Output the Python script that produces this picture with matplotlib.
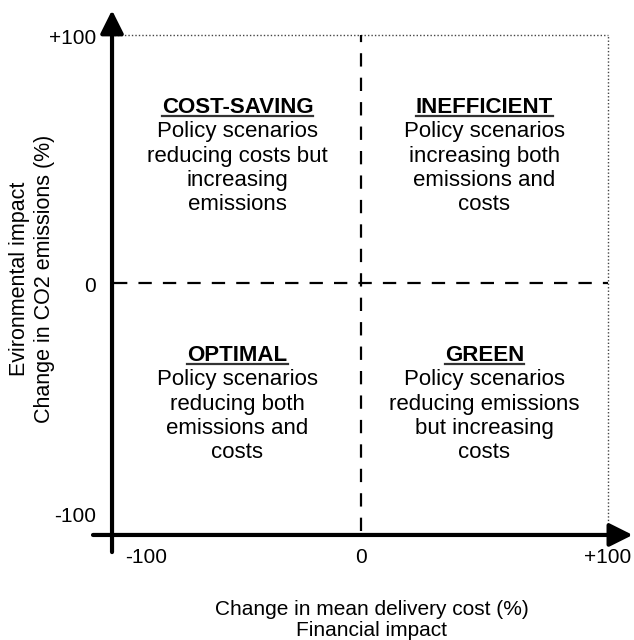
import matplotlib
matplotlib.use("Agg")
import matplotlib.pyplot as plt
from matplotlib.lines import Line2D

plt.rcParams['font.family'] = ['Liberation Sans', 'DejaVu Sans']

# ---- data ----
axis_min = -100
axis_max = 100
x_ticks = [-100, 0, 100]
x_tick_labels = ["-100", "0", "+100"]
y_ticks = [-100, 0, 100]
y_tick_labels = ["-100", "0", "+100"]
x_title = "Change in mean delivery cost (%)\nFinancial impact"
y_title = "Evironmental impact\nChange in CO2 emissions (%)"
quadrant_titles = ["COST-SAVING", "INEFFICIENT", "OPTIMAL", "GREEN"]
quadrant_texts = [
    "Policy scenarios\nreducing costs but\nincreasing\nemissions",
    "Policy scenarios\nincreasing both\nemissions and\ncosts",
    "Policy scenarios\nreducing both\nemissions and\ncosts",
    "Policy scenarios\nreducing emissions\nbut increasing\ncosts",
]
quadrant_x = [-50, 50, -50, 50]
quadrant_y = [52, 52, -48, -48]

# ---- figure ----
W, H, DPI = 634, 640, 100
fig = plt.figure(figsize=(W / DPI, H / DPI), dpi=DPI)
ax = fig.add_axes([0, 0, 1, 1])
ax.set_xlim(-361 / 2.47, (W - 361) / 2.47)
ax.set_ylim(-(H - 283) / 2.48, 283 / 2.48)
ax.axis('off')

PX = 0.72  # points per pixel

# dotted frame (top and right)
ax.plot([axis_min, axis_max], [axis_max, axis_max], color='#444444', lw=1.0,
        linestyle=(0, (1, 1.5)), zorder=1)
ax.plot([axis_max, axis_max], [axis_min, axis_max], color='#444444', lw=1.0,
        linestyle=(0, (1, 1.5)), zorder=1)

# dashed zero lines
ax.plot([axis_min, axis_max], [0, 0], color='black', lw=1.6,
        linestyle=(0, (6, 5)), zorder=2)
ax.plot([0, 0], [axis_min, axis_max], color='black', lw=1.6,
        linestyle=(0, (6, 5)), zorder=2)

# main axes with arrows
over = 8.5
arrow_kw = dict(arrowstyle='-|>,head_length=14,head_width=7', lw=3, color='black',
                shrinkA=0, shrinkB=0, mutation_scale=1)
ax.annotate('', xy=(axis_min - 0.8, axis_max + 10), xytext=(axis_min - 0.8, axis_min - over),
            arrowprops=arrow_kw, zorder=5)
ax.annotate('', xy=(axis_max + 10, axis_min - 1.6), xytext=(axis_min - over, axis_min - 1.6),
            arrowprops=arrow_kw, zorder=5)

FS_TICK = 15
# y tick labels
for v, lab in zip(y_ticks, y_tick_labels):
    dy = 14 if v == axis_min else -3
    ax.annotate(lab, xy=(axis_min, v), xytext=(-18 * PX, dy * PX), textcoords='offset points',
                ha='right', va='center', fontsize=FS_TICK)
# x tick labels
for v, lab in zip(x_ticks, x_tick_labels):
    if v == axis_min:
        ax.annotate(lab, xy=(v, axis_min - 1.6), xytext=(11 * PX, -23 * PX),
                    textcoords='offset points', ha='left', va='center', fontsize=FS_TICK)
    else:
        ax.annotate(lab, xy=(v, axis_min - 1.6), xytext=(0, -23 * PX),
                    textcoords='offset points', ha='center', va='center', fontsize=FS_TICK)

# axis titles
fig.text(372 / W, 1 - 620 / H, x_title, ha='center', va='center', fontsize=15,
         linespacing=1.15)
fig.text(32 / W, 1 - 279 / H, y_title, ha='center', va='center', fontsize=15.5,
         rotation=90, linespacing=1.3)

# quadrant texts
FS_Q = 16
titles = []
for t, d, qx, qy in zip(quadrant_titles, quadrant_texts, quadrant_x, quadrant_y):
    tt = ax.annotate(t, xy=(qx, qy), xytext=(0, 47 * PX), textcoords='offset points',
                     ha='center', va='center', fontsize=FS_Q, fontweight='bold')
    titles.append(tt)
    ax.annotate(d, xy=(qx, qy), xytext=(0, -14 * PX), textcoords='offset points',
                ha='center', va='center', fontsize=FS_Q, linespacing=1.19)

# underline titles
fig.canvas.draw()
r = fig.canvas.get_renderer()
for tt in titles:
    bb = tt.get_window_extent(r)
    yline = bb.y0 + 2
    fig.add_artist(Line2D([bb.x0 / W, bb.x1 / W], [yline / H, yline / H],
                          transform=fig.transFigure, color='#333333', lw=1.6))

fig.savefig('out.png', dpi=DPI)
